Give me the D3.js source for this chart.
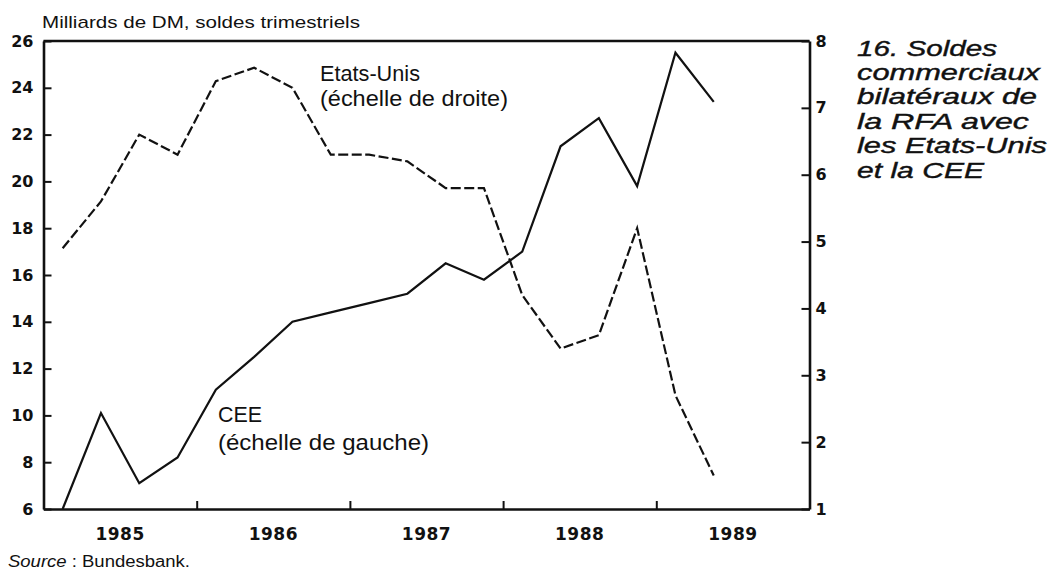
<!DOCTYPE html>
<html lang="fr">
<head>
    <meta charset="UTF-8">
    <title>Soldes commerciaux bilatéraux de la RFA</title>
    <script src="https://d3js.org/d3.v7.min.js"></script>
    <style>
        body { margin: 0; background: #fff; }
        svg { display: block; }
    </style>
</head>
<body>
    <div id="chart"></div>
    <script>
        // trimestres 1985 T1 -> 1989 T4 (les données s'arrêtent au T2 1989)
        const years = ["1985", "1986", "1987", "1988", "1989"];
        const quarters = [];
        for (let y of years) {
            for (let q = 1; q <= 4; q++) quarters.push(y + "T" + q);
        }

        // CEE, milliards de DM (échelle de gauche)
        const ceeValues = [6.0, 10.1, 7.1, 8.2, 11.1, 12.5, 14.0, 14.4, 14.8, 15.2,
                           16.5, 15.8, 17.0, 21.5, 22.7, 19.8, 25.5, 23.4];
        // Etats-Unis, milliards de DM (échelle de droite)
        const usValues = [4.9, 5.6, 6.6, 6.3, 7.4, 7.6, 7.3, 6.3, 6.3, 6.2,
                          5.8, 5.8, 4.2, 3.4, 3.6, 5.2, 2.7, 1.5];

        const leftTicks = [6, 8, 10, 12, 14, 16, 18, 20, 22, 24, 26];
        const rightTicks = [1, 2, 3, 4, 5, 6, 7, 8];
        const yearBounds = [1986, 1987, 1988, 1989];

        const titleLines = ["16. Soldes", "commerciaux", "bilatéraux de", "la RFA avec", "les Etats-Unis", "et la CEE"];
        const titleWidths = [140, 183, 180, 172, 190, 127];

        const w = 1054;
        const h = 574;
        const xLeft = 43.5, xRight = 809.5, yTop = 41, yBottom = 509;

        const svg = d3.select("#chart")
            .append("svg")
            .attr("width", w)
            .attr("height", h)
            .style("background", "#fff");

        const xScale = d3.scaleBand().domain(quarters).range([xLeft, xRight]);
        const yearScale = d3.scaleBand().domain(years).range([xLeft, xRight]);
        const yearLinear = d3.scaleLinear().domain([1985, 1990]).range([xLeft, xRight]);
        const yLeft = d3.scaleLinear().domain([6, 26]).range([yBottom, yTop]);
        const yRight = d3.scaleLinear().domain([1, 8]).range([yBottom, yTop]);

        const qx = (d, i) => xScale(quarters[i]) + xScale.bandwidth() / 2;

        const numFont = "'DejaVu Sans', sans-serif";
        const textFont = "'Liberation Sans', Arial, sans-serif";

        // axes
        const leftAxis = d3.axisLeft(yLeft).tickValues(leftTicks).tickSize(-8).tickSizeOuter(0).tickPadding(10);
        const rightAxis = d3.axisRight(yRight).tickValues(rightTicks).tickFormat(d3.format("d"))
            .tickSize(-8).tickSizeOuter(0).tickPadding(6);
        const bottomLabels = d3.axisBottom(yearScale).tickSize(0).tickPadding(0);
        const bottomTicks = d3.axisBottom(yearLinear).tickValues(yearBounds).tickSize(-8).tickSizeOuter(0).tickFormat("");

        function styleAxis(g, size) {
            g.attr("font-family", numFont).attr("font-size", size).attr("font-weight", "bold");
            g.select(".domain").attr("stroke", "#111").attr("stroke-width", 2.6);
            g.selectAll(".tick line").attr("stroke", "#111").attr("stroke-width", 2);
            g.selectAll(".tick text").attr("fill", "#111");
        }

        svg.append("g")
            .attr("transform", "translate(" + xLeft + ",0)")
            .call(leftAxis)
            .call(g => styleAxis(g, 16));

        svg.append("g")
            .attr("transform", "translate(" + xRight + ",0)")
            .call(rightAxis)
            .call(g => styleAxis(g, 16));

        svg.append("g")
            .attr("transform", "translate(0," + yBottom + ")")
            .call(bottomTicks)
            .call(g => styleAxis(g, 16));

        svg.append("g")
            .attr("transform", "translate(0," + yBottom + ")")
            .call(bottomLabels)
            .call(g => styleAxis(g, 17))
            .call(g => g.select(".domain").remove())
            .call(g => g.selectAll(".tick text").attr("dy", null).attr("y", 31).attr("letter-spacing", 0.5));

        // cadre supérieur
        svg.append("line")
            .attr("x1", xScale.range()[0]).attr("x2", xScale.range()[1])
            .attr("y1", yLeft(26)).attr("y2", yLeft(26))
            .attr("stroke", "#111").attr("stroke-width", 2.6);

        // courbes
        const ceeLine = d3.line().x(qx).y(d => yLeft(d));
        const usLine = d3.line().x(qx).y(d => yRight(d));

        svg.append("path")
            .datum(ceeValues)
            .attr("d", ceeLine)
            .attr("fill", "none")
            .attr("stroke", "#111")
            .attr("stroke-width", 2.2)
            .attr("stroke-linejoin", "miter");

        svg.append("path")
            .datum(usValues)
            .attr("d", usLine)
            .attr("fill", "none")
            .attr("stroke", "#111")
            .attr("stroke-width", 2.2)
            .attr("stroke-dasharray", "10,3.5");

        // textes
        function addText(str, x, y, size, width, opts) {
            const t = svg.append("text")
                .attr("x", x).attr("y", y)
                .attr("font-family", textFont)
                .attr("font-size", size)
                .attr("fill", "#111")
                .text(str);
            if (width) t.attr("textLength", width).attr("lengthAdjust", "spacingAndGlyphs");
            if (opts && opts.italic) t.attr("font-style", "italic");
            return t;
        }

        addText("Milliards de DM, soldes trimestriels", 42, 27.5, 17, 318);
        addText("Etats-Unis", 320, 81, 22, 100);
        addText("(échelle de droite)", 320, 106, 22, 188);
        addText("CEE", 218, 422, 22, 44);
        addText("(échelle de gauche)", 218, 450, 22, 211);

        titleLines.forEach((s, i) => {
            addText(s, 857, 55.5 + i * 24.4, 22, titleWidths[i], { italic: true })
                .attr("stroke", "#111").attr("stroke-width", 0.4);
        });

        const src = svg.append("text")
            .attr("x", 8).attr("y", 567)
            .attr("font-family", textFont)
            .attr("font-size", 16)
            .attr("fill", "#111")
            .attr("textLength", 182)
            .attr("lengthAdjust", "spacingAndGlyphs");
        src.append("tspan").attr("font-style", "italic").text("Source");
        src.append("tspan").text(" : Bundesbank.");
    </script>
</body>
</html>
